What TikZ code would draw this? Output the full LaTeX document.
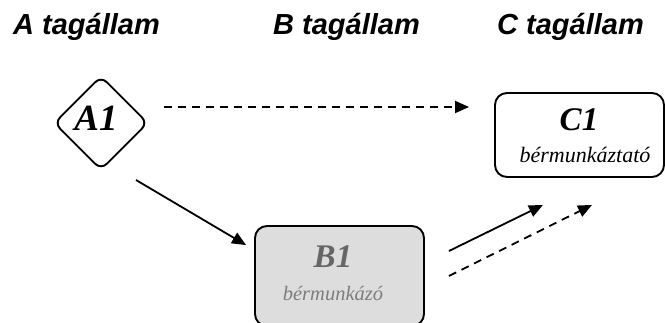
\documentclass[tikz,border=0pt]{standalone}
\usepackage{fontspec}
\setmainfont{Liberation Serif}
\newfontfamily\hdrfont{Liberation Sans}
\usetikzlibrary{arrows.meta,shapes.geometric}
\definecolor{boxgray}{HTML}{DDDDDD}
\definecolor{txtgray}{HTML}{666666}
\tikzset{
  hdr/.style={anchor=base west,inner sep=0pt,font=\hdrfont\fontsize{29}{30}\selectfont\bfseries\itshape},
  bigtxt/.style={anchor=base,inner sep=0pt,font=\fontsize{33}{34}\selectfont\bfseries\itshape},
  subtxt/.style={anchor=base,inner sep=0pt,font=\fontsize{21}{24}\selectfont\itshape},
  roundbox/.style={draw=black,line width=1.9pt,rounded corners=12pt,minimum width=169pt,inner sep=0pt},
  conn/.style={line width=1.8pt,-{Triangle[length=14pt,width=12pt]}},
  dconn/.style={conn,dash pattern=on 8pt off 6pt}
}
\begin{document}
\begin{tikzpicture}[x=1pt,y=1pt]
\useasboundingbox (0,0) rectangle (665,322);
% headers
\node[hdr] (hA) at (13,287) {A tagállam};
\node[hdr] (hB) at (273,287) {B tagállam};
\node[hdr] (hC) at (497,287) {C tagállam};
% A1 diamond
\node[diamond,draw=black,line width=1.9pt,rounded corners=8pt,minimum width=94pt,minimum height=94pt,inner sep=0pt] (A1) at (101,199) {};
\node[bigtxt,font=\fontsize{37}{38}\selectfont\bfseries\itshape] (A1t) at (96,191) {A1};
% C1 box
\node[roundbox,minimum height=84pt] (C1) at (579.5,187) {};
\node[bigtxt] (C1t) at (579,191) {C1};
\node[subtxt,font=\fontsize{22}{24}\selectfont\itshape] (C1s) at (585,159) {bérmunkáztató};
% B1 box (cut off at bottom)
\node[roundbox,fill=boxgray,minimum height=100pt] (B1) at (339.5,46) {};
\node[bigtxt,text=txtgray] (B1t) at (333,55) {B1};
\node[subtxt,text=txtgray!85!white,font=\fontsize{20.5}{24}\selectfont\itshape] (B1s) at (333,22) {bérmunkázó};
% connectors
\draw[dconn] ([shift={(15,16)}]A1.east) -- ([shift={(-25,28)}]C1.west);
\draw[conn] ([shift={(35,-57)}]A1.center) -- ([shift={(-8,-20)}]B1.north west);
\draw[conn] ([shift={(24,25)}]B1.east) -- ([shift={(-36.5,-27)}]C1.south);
\draw[dconn] ([shift={(24,0)}]B1.east) -- ([shift={(12.5,-27)}]C1.south);
\end{tikzpicture}
\end{document}
